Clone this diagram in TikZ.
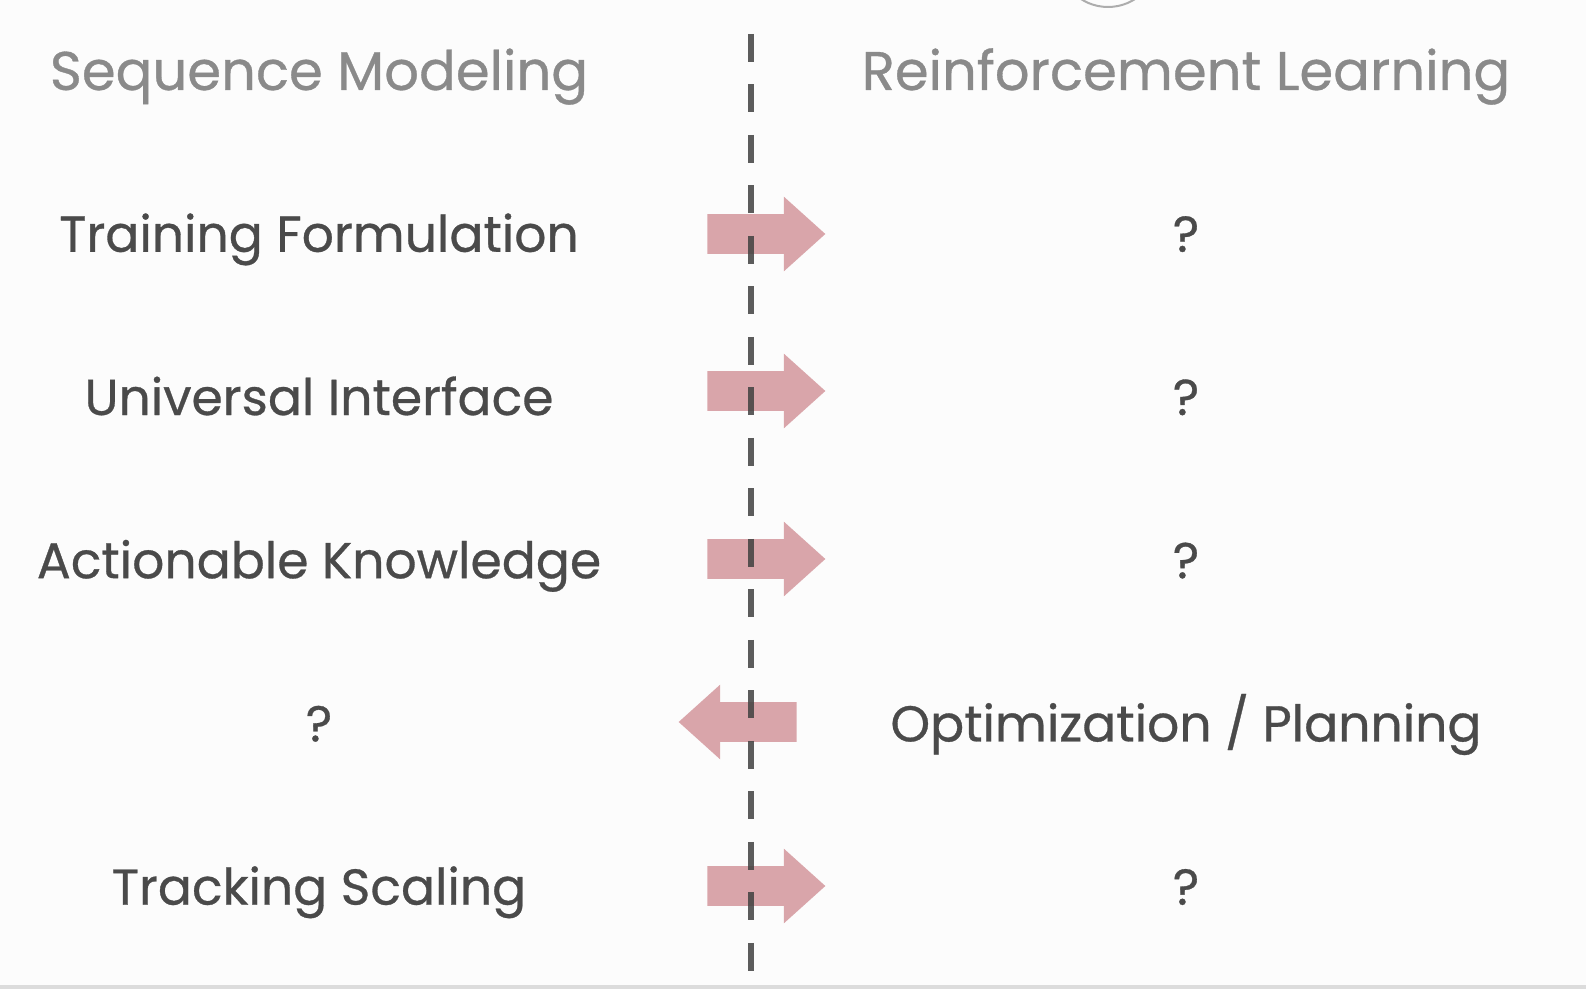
\documentclass[tikz,border=0pt]{standalone}
\usepackage{fontspec}
\setmainfont{Poppins}[FakeBold=0.6,AutoFakeBold=0.6]
\usetikzlibrary{shapes.arrows}
\definecolor{headgrey}{HTML}{8A8A8A}
\definecolor{textgrey}{HTML}{4A4A4A}
\definecolor{dashgrey}{HTML}{404040}
\definecolor{arrowpink}{HTML}{D9A5AA}
\definecolor{pagebg}{HTML}{FCFCFC}
\definecolor{rulegrey}{HTML}{DCDCDC}

\begin{document}
\begin{tikzpicture}[x=0.02cm,y=-0.02cm,node distance=3.265cm,
  heading/.style={text=headgrey,font=\fontsize{31}{36}\selectfont,text height=21.6pt,text depth=0pt,inner sep=0pt},
  item/.style={text=textgrey,font=\fontsize{28.7}{34}\selectfont,text height=20pt,text depth=0pt,inner sep=0pt},
  rarrow/.style={single arrow,fill=arrowpink,draw=none,minimum height=2.36cm,minimum width=1.48cm,
    single arrow head extend=0.35cm,single arrow tip angle=84,inner xsep=0pt,inner ysep=0.39cm,anchor=tail},
  larrow/.style={rarrow,shape border rotate=180},
  divider/.style={draw=dashgrey,line width=0.12cm,dash pattern=on 0.56cm off 0.45cm,opacity=0.85}]
\useasboundingbox (0,0) rectangle (1586,996);
\fill[pagebg] (0,0) rectangle (1586,985);
\fill[rulegrey] (0,985) rectangle (1586,989);
\begin{scope}
\clip (0,0) rectangle (1586,996);
\draw[headgrey!70,line width=0.04cm] (1108,-43) circle[radius=1cm];
\end{scope}
% left column
\node[heading] (SM) at (319,71) {Sequence Modeling};
\node[item] (TF) [below of=SM] {Training Formulation};
\node[item] (UI) [below of=TF] {Universal Interface};
\node[item] (AK) [below of=UI] {Actionable Knowledge};
\node[item] (Q4) [below of=AK] {?};
\node[item] (TS) [below of=Q4] {Tracking Scaling};
% right column
\node[heading] (RL) at (1186,71) {Reinforcement Learning};
\node[item] (Q1) [below of=RL] {?};
\node[item] (Q2) [below of=Q1] {?};
\node[item] (Q3) [below of=Q2] {?};
\node[item] (OP) [below of=Q3] {Optimization / Planning};
\node[item] (Q5) [below of=OP] {?};
% arrows
\node[rarrow] (A1) at (707,234) {};
\node[rarrow] (A2) at (707,391) {};
\node[rarrow] (A3) at (707,559) {};
\node[larrow] (A4) at (797,722) {};
\node[rarrow] (A5) at (707,886) {};
% divider
\coordinate (top) at (751,34);
\coordinate (bottom) at (751,972);
\draw[divider] (top) -- (bottom);
\end{tikzpicture}
\end{document}
